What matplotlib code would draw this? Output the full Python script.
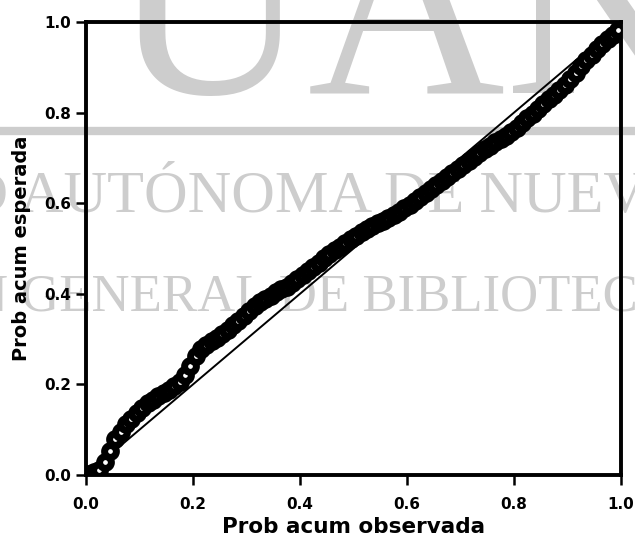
import matplotlib
matplotlib.use("Agg")
import matplotlib.pyplot as plt
from matplotlib.lines import Line2D

# Observed vs expected cumulative probabilities (normal P-P plot)
obs = [0.005, 0.015, 0.025, 0.035, 0.045, 0.055, 0.065, 0.075, 0.085, 0.095,
       0.105, 0.115, 0.125, 0.135, 0.145, 0.155, 0.165, 0.175, 0.185, 0.195,
       0.205, 0.215, 0.225, 0.235, 0.245, 0.255, 0.265, 0.275, 0.285, 0.295,
       0.305, 0.315, 0.325, 0.335, 0.345, 0.355, 0.365, 0.375, 0.385, 0.395,
       0.405, 0.415, 0.425, 0.435, 0.445, 0.455, 0.465, 0.475, 0.485, 0.495,
       0.505, 0.515, 0.525, 0.535, 0.545, 0.555, 0.565, 0.575, 0.585, 0.595,
       0.605, 0.615, 0.625, 0.635, 0.645, 0.655, 0.665, 0.675, 0.685, 0.695,
       0.705, 0.715, 0.725, 0.735, 0.745, 0.755, 0.765, 0.775, 0.785, 0.795,
       0.805, 0.815, 0.825, 0.835, 0.845, 0.855, 0.865, 0.875, 0.885, 0.895,
       0.905, 0.915, 0.925, 0.935, 0.945, 0.955, 0.965, 0.975, 0.985, 0.995]
esp = [0.002, 0.006, 0.012, 0.028, 0.052, 0.080, 0.095, 0.112, 0.124, 0.137,
       0.148, 0.158, 0.166, 0.174, 0.181, 0.188, 0.196, 0.205, 0.220, 0.240,
       0.262, 0.278, 0.288, 0.296, 0.303, 0.311, 0.321, 0.331, 0.341, 0.351,
       0.361, 0.372, 0.381, 0.389, 0.396, 0.403, 0.410, 0.416, 0.424, 0.433,
       0.442, 0.451, 0.460, 0.469, 0.478, 0.487, 0.496, 0.504, 0.512, 0.520,
       0.528, 0.537, 0.544, 0.550, 0.556, 0.561, 0.567, 0.574, 0.581, 0.589,
       0.597, 0.605, 0.613, 0.622, 0.631, 0.640, 0.648, 0.657, 0.666, 0.675,
       0.684, 0.693, 0.702, 0.711, 0.719, 0.727, 0.734, 0.741, 0.749, 0.757,
       0.767, 0.777, 0.787, 0.797, 0.808, 0.818, 0.829, 0.839, 0.850, 0.861,
       0.874, 0.888, 0.903, 0.916, 0.928, 0.940, 0.952, 0.962, 0.972, 0.982]

ticks = [0.0, 0.2, 0.4, 0.6, 0.8, 1.0]
tick_labels = ["0.0", "0.2", "0.4", "0.6", "0.8", "1.0"]

fig = plt.figure(figsize=(6.35, 5.38), dpi=100)

# library stamp behind the chart
gris = "#cdcdcd"
serif = "Liberation Serif"
fig.text(110 / 635, 1 - 93 / 538, "UANL", fontsize=197, family=serif,
         color=gris, ha="left", va="baseline", zorder=0)
fig.add_artist(Line2D([0, 1], [1 - 131 / 538, 1 - 131 / 538],
                      transform=fig.transFigure, color=gris, lw=6, zorder=0))
fig.text(-404 / 635, 1 - 212 / 538, "UNIVERSIDAD AUTÓNOMA DE NUEVO LEÓN",
         fontsize=43.5, family=serif, color=gris, ha="left", va="baseline",
         zorder=0)
fig.text(-279 / 635, 1 - 312 / 538, "DIRECCIÓN GENERAL DE BIBLIOTECAS",
         fontsize=38, family=serif, color=gris, ha="left", va="baseline",
         zorder=0)

ax = fig.add_axes([86 / 635, 63 / 538, 535 / 635, 453 / 538])
ax.set_zorder(1)
ax.patch.set_alpha(0)

ax.plot([0, 1], [0, 1], color="black", lw=1.4, zorder=2)
ax.plot(obs, esp, linestyle="none", marker="o", markersize=8.5,
        markerfacecolor="white", markeredgecolor="black",
        markeredgewidth=5, zorder=3)

ax.set_xlim(0, 1)
ax.set_ylim(0, 1)
ax.set_xticks(ticks)
ax.set_yticks(ticks)
ax.set_xticklabels(tick_labels)
ax.set_yticklabels(tick_labels)

for s in ax.spines.values():
    s.set_linewidth(2.8)
ax.tick_params(direction="out", length=7.5, width=1.8)
ax.tick_params(axis="x", pad=8)
ax.tick_params(axis="y", pad=3)
for lab in ax.get_xticklabels() + ax.get_yticklabels():
    lab.set_family("DejaVu Sans")
    lab.set_fontweight("bold")
    lab.set_fontsize(11)

ax.set_xlabel("Prob acum observada", family="DejaVu Sans",
              fontweight="bold", fontsize=15.5, labelpad=4)
ax.set_ylabel("Prob acum esperada", family="DejaVu Sans",
              fontweight="bold", fontsize=14, labelpad=10)

fig.savefig("out.png", dpi=100)
